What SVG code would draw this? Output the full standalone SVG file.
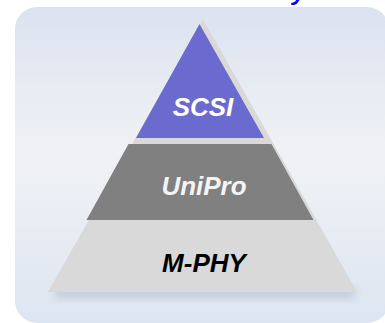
<svg xmlns="http://www.w3.org/2000/svg" width="385" height="323" viewBox="0 0 385 323">
<defs>
<linearGradient id="bg" x1="0" y1="0" x2="0" y2="1">
<stop offset="0" stop-color="#dbe3f0"/>
<stop offset="0.45" stop-color="#f0f1f4"/>
<stop offset="0.6" stop-color="#eceff4"/>
<stop offset="1" stop-color="#dce5f1"/>
</linearGradient>
<filter id="blur" x="-20%" y="-50%" width="140%" height="200%"><feGaussianBlur stdDeviation="4"/></filter>
<style>
.lbl{font-family:"Liberation Sans",Arial,sans-serif;font-size:26px;font-weight:bold;font-style:italic;text-anchor:middle}
</style>
</defs>
<rect x="15" y="7" width="374" height="316" rx="22" fill="url(#bg)"/>
<text x="290" y="-2" font-family="Liberation Sans, Arial, sans-serif" font-size="34" fill="#0000ff">y</text>
<g id="shadow"><rect x="55" y="288" width="300" height="10" fill="#9aa6b8" opacity="0.45" filter="url(#blur)"/></g>
<g id="mphy">
<polygon points="203,19 357,292 48,292" fill="#d9d9d9"/>
<text class="lbl" x="204" y="272" fill="#000000">M-PHY</text>
</g>
<g id="unipro">
<polygon points="128.5,144 271.5,144 313.5,220 86.5,220" fill="#808080"/>
<text class="lbl" x="204" y="195" fill="#f4f4f4">UniPro</text>
</g>
<g id="scsi">
<polygon points="199.5,24 264,138 136,138" fill="#6b6bcf"/>
<text class="lbl" x="203" y="116" fill="#ffffff">SCSI</text>
</g>
<g id="connectors"/>
</svg>
